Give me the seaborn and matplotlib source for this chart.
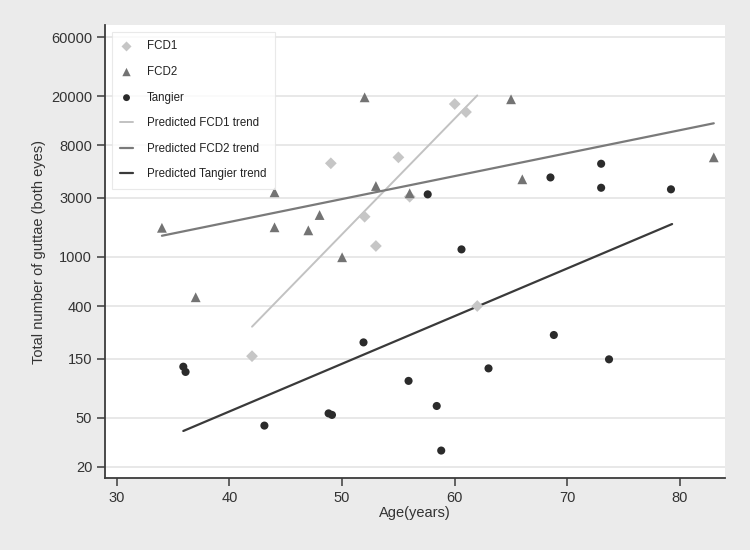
import matplotlib
matplotlib.use("Agg")
import matplotlib.pyplot as plt
import matplotlib.ticker as mticker
import seaborn as sns
import pandas as pd

# guttae counts (both eyes), by age
fcd1_age = [42, 49, 52, 53, 55, 56, 60, 61, 62]
fcd1_count = [157, 5730, 2115, 1225, 6400, 3070, 17300, 14900, 400]

fcd2_age = [34, 37, 44, 44, 47, 48, 50, 52, 53, 56, 65, 66, 83]
fcd2_count = [1720, 471, 3335, 1736, 1640, 2183, 993, 19600, 3750, 3275, 18900, 4250, 6400]

tangier_age = [35.9, 36.1, 43.1, 48.8, 49.1, 51.9, 55.9, 57.6, 58.4, 58.8,
               60.6, 63.0, 68.5, 68.8, 73.0, 73.0, 73.7, 79.2]
tangier_count = [129, 117, 43, 54, 52.5, 203, 99, 3210, 62, 27,
                 1150, 125, 4400, 233, 5680, 3630, 148, 3525]

# predicted trends (end points of the fitted lines)
trend_fcd1_age = [42, 62]
trend_fcd1_count = [272, 20300]
trend_fcd2_age = [34, 83]
trend_fcd2_count = [1483, 12080]
trend_tangier_age = [35.9, 79.3]
trend_tangier_count = [38.9, 1845]

y_ticks = [20, 50, 150, 400, 1000, 3000, 8000, 20000, 60000]
x_ticks = [30, 40, 50, 60, 70, 80]

sns.set_style("white")
plt.rcParams['font.family'] = ['Liberation Sans', 'DejaVu Sans']

fig = plt.figure(figsize=(7.5, 5.5), dpi=100, facecolor='#ebebeb')
ax = fig.add_axes([0.1396, 0.1304, 0.8271, 0.8241])
ax.set_facecolor('white')

ax.set_yscale('log')
for t in y_ticks:
    ax.axhline(t, color='#e6e6e6', lw=1.3, zorder=0)

sns.lineplot(x=trend_fcd1_age, y=trend_fcd1_count, color='#c2c2c2', lw=1.4,
             label='Predicted FCD1 trend', ax=ax, zorder=2)
sns.lineplot(x=trend_fcd2_age, y=trend_fcd2_count, color='#7a7a7a', lw=1.6,
             label='Predicted FCD2 trend', ax=ax, zorder=2)
sns.lineplot(x=trend_tangier_age, y=trend_tangier_count, color='#3a3a3a', lw=1.6,
             label='Predicted Tangier trend', ax=ax, zorder=2)

sns.scatterplot(x=fcd1_age, y=fcd1_count, marker='D', s=36, color='#c6c6c6',
                edgecolor='none', label='FCD1', ax=ax, zorder=3)
sns.scatterplot(x=fcd2_age, y=fcd2_count, marker='^', s=50, color='#737373',
                edgecolor='none', label='FCD2', ax=ax, zorder=3)
sns.scatterplot(x=tangier_age, y=tangier_count, marker='o', s=34, color='#2b2b2b',
                edgecolor='none', label='Tangier', ax=ax, zorder=4)

ax.set_xlim(28.92, 84.0)
ax.set_ylim(16.1, 75500)
ax.yaxis.set_major_locator(mticker.FixedLocator(y_ticks))
ax.yaxis.set_major_formatter(mticker.FixedFormatter([str(t) for t in y_ticks]))
ax.yaxis.set_minor_locator(mticker.NullLocator())
ax.set_xticks(x_ticks)

for side in ['top', 'right']:
    ax.spines[side].set_visible(False)
for side in ['left', 'bottom']:
    ax.spines[side].set_color('#3c3c3c')
    ax.spines[side].set_linewidth(1.3)
ax.tick_params(axis='both', which='major', direction='out', length=6, width=1.1,
               color='#3c3c3c', labelsize=10.5, labelcolor='#333333', pad=3,
               left=True, bottom=True)

ax.set_xlabel('Age(years)', fontsize=10.5, color='#333333', labelpad=1)
ax.set_ylabel('Total number of guttae (both eyes)', fontsize=10.5, color='#333333', labelpad=4)

handles, labels = ax.get_legend_handles_labels()
order = ['FCD1', 'FCD2', 'Tangier', 'Predicted FCD1 trend',
         'Predicted FCD2 trend', 'Predicted Tangier trend']
hmap = dict(zip(labels, handles))
leg = ax.legend([hmap[k] for k in order], order, loc='upper left',
                bbox_to_anchor=(0.011, 0.985), borderaxespad=0, fontsize=8.3,
                frameon=True, fancybox=False, edgecolor='#e4e4e4',
                labelspacing=1.18, handlelength=1.1, handletextpad=1.2,
                borderpad=0.75, markerscale=0.85)
leg.get_frame().set_linewidth(0.8)
for txt in leg.get_texts():
    txt.set_color('#222222')

fig.savefig('out.png', dpi=100, facecolor=fig.get_facecolor())
